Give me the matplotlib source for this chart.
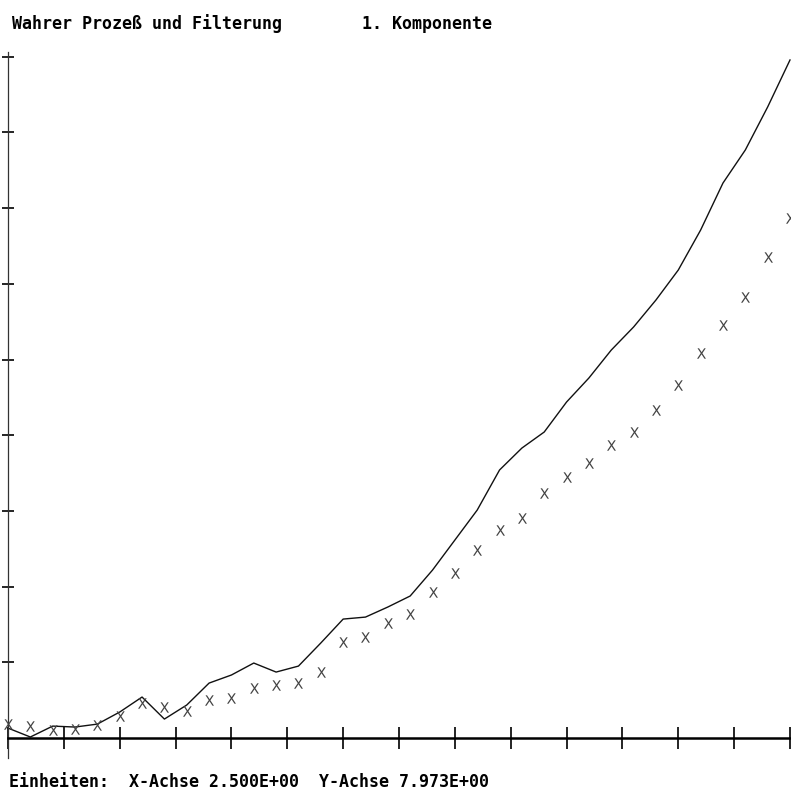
import matplotlib
matplotlib.use("Agg")
from matplotlib import pyplot as plt

# Zeitschritte 0..35, X-Einheit 2.5 pro Teilstrich, Y-Einheit 7.973 pro Teilstrich
t = list(range(36))

wahr = [1.05, 0.11, 1.26, 1.16, 1.47, 2.74, 4.32, 2.00, 3.48, 5.79,
        6.64, 7.90, 6.95, 7.58, 10.01, 12.53, 12.74, 13.80, 14.96, 17.69,
        20.85, 24.01, 28.23, 30.54, 32.23, 35.39, 37.92, 40.86, 43.29, 46.13,
        49.29, 53.50, 58.45, 61.93, 66.46, 71.41]

filt = [1.47, 1.26, 0.84, 0.95, 1.37, 2.32, 3.69, 3.26, 2.84, 4.00,
        4.21, 5.27, 5.58, 5.79, 6.95, 10.11, 10.64, 12.11, 13.06, 15.38,
        17.38, 19.80, 21.91, 23.17, 25.80, 27.49, 28.96, 30.86, 32.23, 34.54,
        37.18, 40.55, 43.50, 46.45, 50.66, 54.77]

x_unit = 2.5
y_unit = 7.973
n_xticks = 14
n_yticks = 9

title = "Wahrer Prozeß und Filterung        1. Komponente"
footer = "Einheiten:  X-Achse 2.500E+00  Y-Achse 7.973E+00"

W, H = 791, 796
fig = plt.figure(figsize=(W / 100, H / 100), dpi=100)
ax = fig.add_axes([8 / W, (H - 758) / H, (790 - 8) / W, (758 - 52) / H])

ax.plot(t, wahr, color="#111111", linewidth=1.0, clip_on=False, zorder=2)
ax.plot(t, filt, linestyle="none", marker=r"$\mathrm{X}$", markersize=7.5,
        markeredgewidth=0, color="#444444", clip_on=False, zorder=3)

ax.set_xlim(0, 35)
ax.set_ylim(-2.1, 72.25)

ax.spines["top"].set_visible(False)
ax.spines["right"].set_visible(False)
ax.spines["bottom"].set_position(("data", 0))
ax.spines["bottom"].set_linewidth(1.8)
ax.spines["left"].set_linewidth(0.9)
ax.spines["left"].set_color("#333333")

ax.set_xticks([x_unit * k for k in range(n_xticks + 1)])
ax.set_yticks([y_unit * k for k in range(1, n_yticks + 1)])
ax.set_xticklabels([])
ax.set_yticklabels([])
ax.tick_params(axis="x", direction="inout", length=16, width=1.2, color="black")
ax.tick_params(axis="y", direction="inout", length=9, width=1.2, color="black")

fig.text(12 / W, 1 - 29 / H, title, family="DejaVu Sans Mono", fontsize=11.96,
         fontweight="bold", va="baseline", ha="left")
fig.text(9 / W, 1 - 787 / H, footer, family="DejaVu Sans Mono", fontsize=11.96,
         fontweight="bold", va="baseline", ha="left")

fig.savefig("out.png", dpi=100)
